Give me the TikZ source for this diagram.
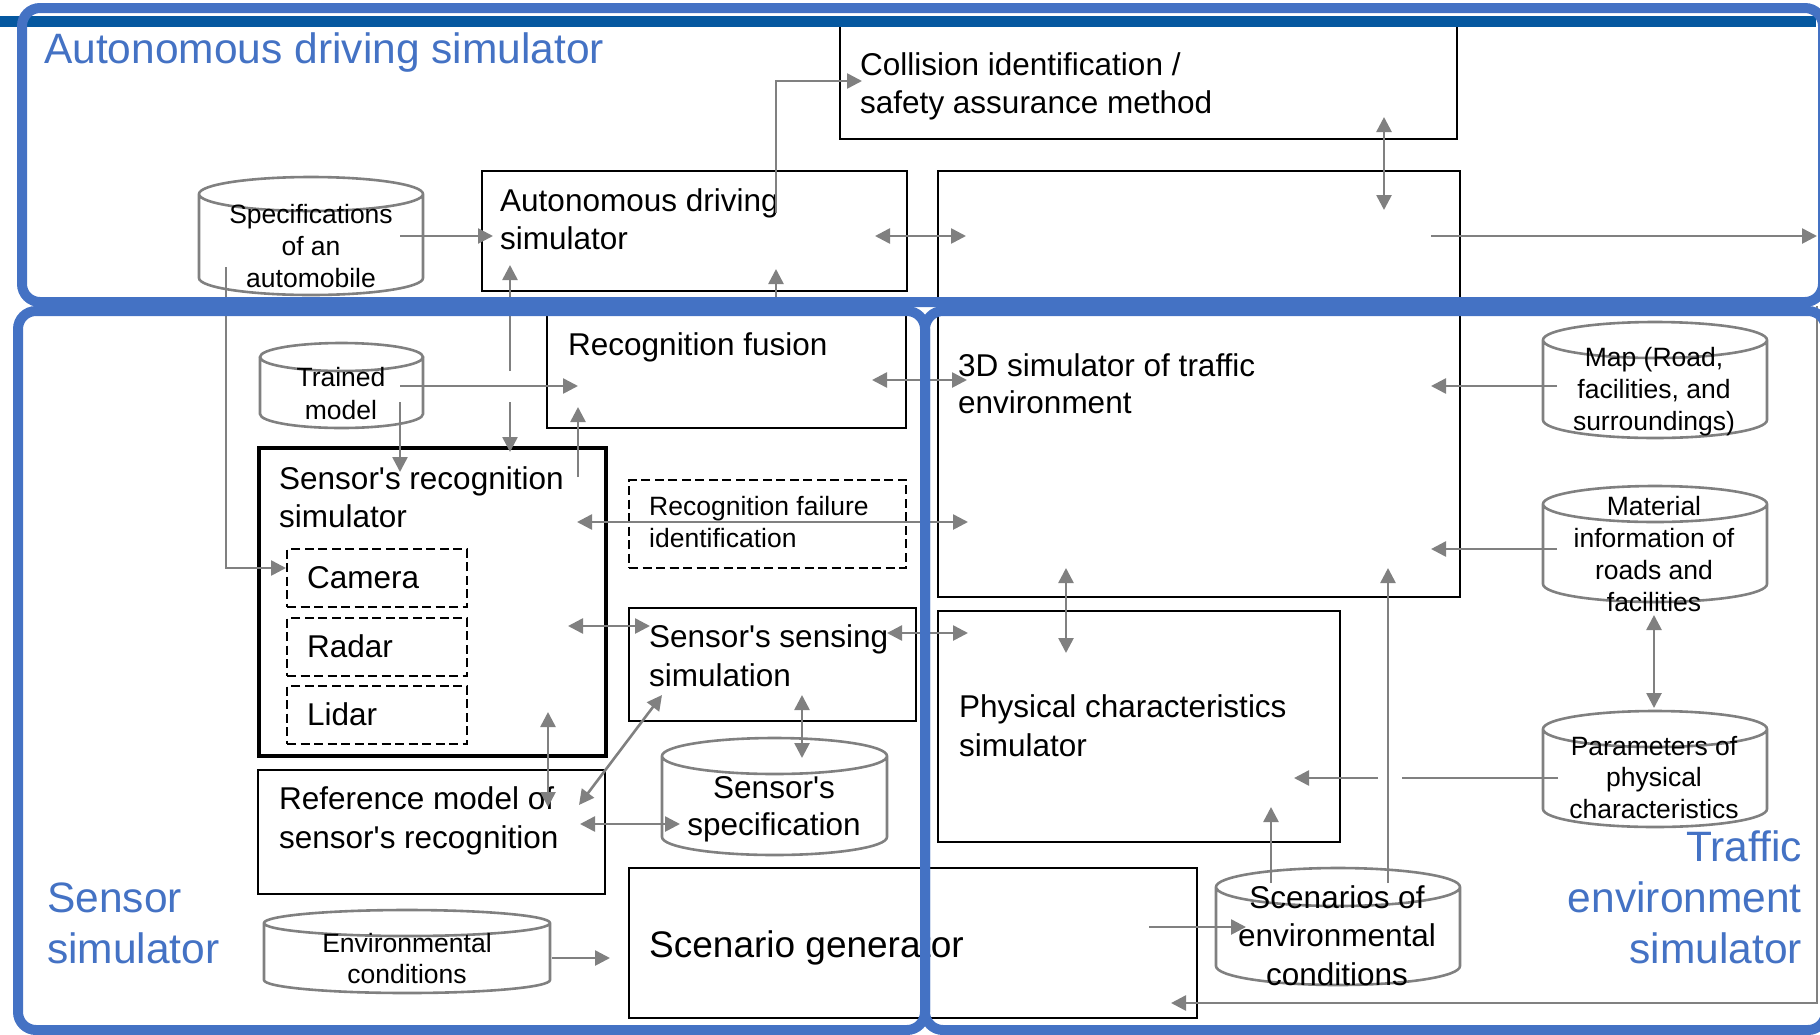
\documentclass[tikz,border=0pt]{standalone}
\usepackage{fontspec}
\setmainfont{Liberation Sans}
\usetikzlibrary{arrows.meta,calc}

\definecolor{frameblue}{HTML}{4472C4}
\definecolor{barblue}{HTML}{0558A0}
\definecolor{conngray}{HTML}{808080}

\tikzset{
  box/.style={draw=black, line width=2.4pt, rectangle, inner sep=0pt, outer sep=0pt, anchor=north west},
  thickbox/.style={box, line width=4.6pt},
  dashbox/.style={box, line width=2pt, dash pattern=on 9pt off 4.5pt},
  cylnode/.style={rectangle, inner sep=0pt, outer sep=0pt, anchor=north west},
  cylline/.style={draw=conngray, line width=2.6pt},
  % multi-line texts are placed by the baseline of their last line
  txt/.style={inner sep=0pt, anchor=base west, align=left, font=\fontsize{31.5}{38}\selectfont},
  stxt/.style={inner sep=0pt, anchor=base west, align=left, font=\fontsize{26.5}{32}\selectfont},
  ctxt/.style={inner sep=0pt, anchor=base, align=center, font=\fontsize{26.5}{32}\selectfont},
  cltxt/.style={inner sep=0pt, anchor=base, align=center, font=\fontsize{31.5}{38.5}\selectfont},
  lbl/.style={inner sep=0pt, text=frameblue, font=\fontsize{42.5}{51}\selectfont},
  conn/.style={draw=conngray, line width=2.6pt},
  fwd/.style={conn, -{Triangle[length=15pt,width=15pt]}},
  dbl/.style={conn, {Triangle[length=15pt,width=15pt]}-{Triangle[length=15pt,width=15pt]}},
  frame/.style={draw=frameblue, line width=10pt, rounded corners=18pt},
}

% outline of a database cylinder around a named node; #2 = radius of the end ellipses
\newcommand\cylout[2]{%
  \draw[cylline] let \p1=(#1.north west), \p2=(#1.south east), \n1={(\x2-\x1)/2} in
    (\x1,\y1-#2pt) -- (\x1,\y2+#2pt)
    arc[start angle=180, end angle=360, x radius=\n1, y radius=#2pt]
    -- (\x2,\y1-#2pt)
    (\x1+\n1,\y1-#2pt) ellipse[x radius=\n1, y radius=#2pt];
}

\begin{document}
\begin{tikzpicture}[x=1pt,y=-1pt]
\useasboundingbox (0,0) rectangle (1820,1034);

% ---------- process boxes ----------
\node[box, minimum width=617pt, minimum height=113pt] (coll) at (840,26) {};
\node[box, minimum width=425pt, minimum height=120pt] (adsim) at (482,171) {};
\node[box, minimum width=522pt, minimum height=426pt] (env3d) at (938,171) {};
\node[box, minimum width=359pt, minimum height=113pt] (fusion) at (547,315) {};
\node[thickbox, minimum width=347pt, minimum height=308pt] (srecog) at (259,448) {};
\node[dashbox, minimum width=180pt, minimum height=58pt] (camera) at (287,549) {};
\node[dashbox, minimum width=180pt, minimum height=58pt] (radar) at (287,618) {};
\node[dashbox, minimum width=180pt, minimum height=58pt] (lidar) at (287,686) {};
\node[dashbox, minimum width=277pt, minimum height=88pt] (failure) at (629,480) {};
\node[box, minimum width=287pt, minimum height=113pt] (sensing) at (629,608) {};
\node[box, minimum width=402pt, minimum height=231pt] (physical) at (938,611) {};
\node[box, minimum width=347pt, minimum height=124pt] (refmodel) at (258,770) {};
\node[box, minimum width=568pt, minimum height=150pt] (scengen) at (629,868) {};

% ---------- databases ----------
\node[cylnode, minimum width=224pt, minimum height=118pt] (spec) at (199,177) {};
\node[cylnode, minimum width=163pt, minimum height=85pt] (trained) at (260,343) {};
\node[cylnode, minimum width=225pt, minimum height=117pt] (sspec) at (662,738) {};
\node[cylnode, minimum width=286pt, minimum height=83pt] (envcond) at (264,910) {};
\node[cylnode, minimum width=224pt, minimum height=116pt] (map) at (1543,322) {};
\node[cylnode, minimum width=224pt, minimum height=116pt] (material) at (1543,486) {};
\node[cylnode, minimum width=224pt, minimum height=116pt] (params) at (1543,711) {};
\node[cylnode, minimum width=244pt, minimum height=117pt] (scenarios) at (1216,868) {};
\cylout{spec}{17}
\cylout{trained}{14}
\cylout{sspec}{18}
\cylout{envcond}{13}
\cylout{map}{18}
\cylout{material}{18}
\cylout{params}{18}
\cylout{scenarios}{19}

% ---------- texts ----------
\node[txt] (coll-t) at (860,113) {Collision identification /\\safety assurance method};
\node[txt] (adsim-t) at (500,249) {Autonomous driving\\simulator};
\node[txt, font=\fontsize{31.5}{37}\selectfont] (env3d-t) at (958,413) {3D simulator of traffic\\environment};
\node[txt] (fusion-t) at (568,355) {Recognition fusion};
\node[txt] (srecog-t) at (279,527) {Sensor\textquotesingle s recognition\\simulator};
\node[txt] (camera-t) at (307,588) {Camera};
\node[txt] (radar-t) at (307,657) {Radar};
\node[txt] (lidar-t) at (307,725) {Lidar};
\node[stxt] (failure-t) at (649,547) {Recognition failure\\identification};
\node[txt, font=\fontsize{31.5}{39}\selectfont] (sensing-t) at (649,686) {Sensor\textquotesingle s sensing\\simulation};
\node[txt, font=\fontsize{31.5}{39}\selectfont] (physical-t) at (959,756) {Physical characteristics\\simulator};
\node[txt, font=\fontsize{31.5}{39}\selectfont] (refmodel-t) at (279,848) {Reference model of\\sensor\textquotesingle s recognition};
\node[txt, font=\fontsize{37}{44}\selectfont] (scengen-t) at (649,957) {Scenario generator};

\node[ctxt] (spec-t) at (311,287) {Specifications\\of an\\automobile};
\node[ctxt, font=\fontsize{26.5}{33}\selectfont] (trained-t) at (341,419) {Trained\\model};
\node[cltxt, font=\fontsize{31.5}{37}\selectfont] (sspec-t) at (774,835) {Sensor\textquotesingle s\\specification};
\node[ctxt, font=\fontsize{26.5}{31}\selectfont] (envcond-t) at (407,983) {Environmental\\conditions};
\node[ctxt] (map-t) at (1654,430) {Map (Road,\\facilities, and\\surroundings)};
\node[ctxt] (material-t) at (1654,611) {Material\\information of\\roads and\\facilities};
\node[ctxt, font=\fontsize{26.5}{31.5}\selectfont] (params-t) at (1654,818) {Parameters of\\physical\\characteristics};
\node[cltxt] (scenarios-t) at (1337,985) {Scenarios of\\environmental\\conditions};

% ---------- connectors ----------
\coordinate (out) at (1817,236);
\coordinate (fbtop) at (1817,306);

\draw[fwd] ($(spec.north west)+(201,59)$) -- ($(adsim.north west)+(11,65)$);
\draw[fwd] ($(spec.north west)+(27,90)$) |- ($(camera.north west)+(-1,19)$);
\draw[fwd] ($(adsim.north west)+(294,42)$) |- ($(coll.north west)+(22,55)$);
\draw[fwd] ($(fusion.north west)+(229,0)$) -- ($(adsim.north west)+(294,98)$);
\draw[fwd] ($(srecog.north west)+(251,-77)$) -- ($(adsim.north west)+(28,94)$);
\draw[fwd] ($(adsim.north west)+(28,231)$) -- ($(srecog.north west)+(251,4)$);
\draw[fwd] ($(trained.north west)+(140,43)$) -- ($(fusion.north west)+(31,71)$);
\draw[fwd] ($(trained.north west)+(140,59)$) -- ($(srecog.north west)+(141,24)$);
\draw[fwd] ($(srecog.north west)+(319,29)$) -- ($(fusion.north west)+(31,92)$);
\draw[dbl] ($(fusion.north west)+(325,65)$) -- ($(env3d.north west)+(29,209)$);
\draw[dbl] ($(adsim.north west)+(393,65)$) -- ($(env3d.north west)+(28,65)$);
\draw[dbl] ($(coll.north west)+(544,91)$) -- ($(env3d.north west)+(446,39)$);
\draw[fwd] ($(env3d.north west)+(493,65)$) -- (out);
\draw[fwd] (fbtop) |- ($(scengen.north west)+(542,135)$);
\draw[fwd] ($(scengen.north west)+(520,59)$) -- ($(scenarios.north west)+(30,59)$);
\draw[fwd] ($(envcond.north west)+(288,48)$) -- ($(scengen.north west)+(-19,90)$);
\draw[dbl] ($(srecog.north west)+(318,74)$) -- ($(env3d.north west)+(30,351)$);
\draw[dbl] ($(srecog.north west)+(309,178)$) -- ($(sensing.north west)+(21,18)$);
\draw[dbl] ($(sensing.north west)+(258,25)$) -- ($(physical.north west)+(30,22)$);
\draw[dbl] ($(sensing.north west)+(173,87)$) -- ($(sspec.north west)+(140,20)$);
\draw[dbl] ($(sensing.north west)+(33,87)$) -- ($(refmodel.north west)+(321,35)$);
\draw[dbl] ($(srecog.north west)+(289,264)$) -- ($(refmodel.north west)+(290,37)$);
\draw[dbl] ($(refmodel.north west)+(322,54)$) -- ($(sspec.north west)+(18,86)$);
\draw[fwd] ($(map.north west)+(14,64)$) -- ($(env3d.north west)+(493,215)$);
\draw[fwd] ($(material.north west)+(14,63)$) -- ($(env3d.north west)+(493,378)$);
\draw[dbl] ($(env3d.north west)+(128,397)$) -- ($(physical.north west)+(128,42)$);
\draw[fwd] ($(scenarios.north west)+(172,15)$) -- ($(env3d.north west)+(450,397)$);
\draw[dbl] ($(material.north west)+(111,129)$) -- ($(params.north west)+(111,-3)$);
% horizontal feed with a hop where it meets the vertical line
\draw[conn] ($(params.north west)+(15,67)$) -- ($(physical.north west)+(464,167)$);
\draw[fwd] ($(physical.north west)+(440,167)$) -- ($(physical.north west)+(356,167)$);
\draw[fwd] ($(scenarios.north west)+(55,15)$) -- ($(physical.north west)+(333,196)$);

% ---------- group frames ----------
\fill[barblue] (0,16) rectangle (1816,27);
\draw[frame] (22,8) rectangle (1823,302);
\draw[frame] (18,311) rectangle (925,1030);
\draw[frame] (925,311) rectangle (1826,1030);

\node[lbl, anchor=base west] (lbl-ad) at (44,63) {Autonomous driving simulator};
\node[lbl, anchor=base west, align=left] (lbl-sensor) at (47,963) {Sensor\\simulator};
\node[lbl, anchor=base east, align=right] (lbl-traffic) at (1802,963) {Traffic\\environment\\simulator};
\end{tikzpicture}
\end{document}
